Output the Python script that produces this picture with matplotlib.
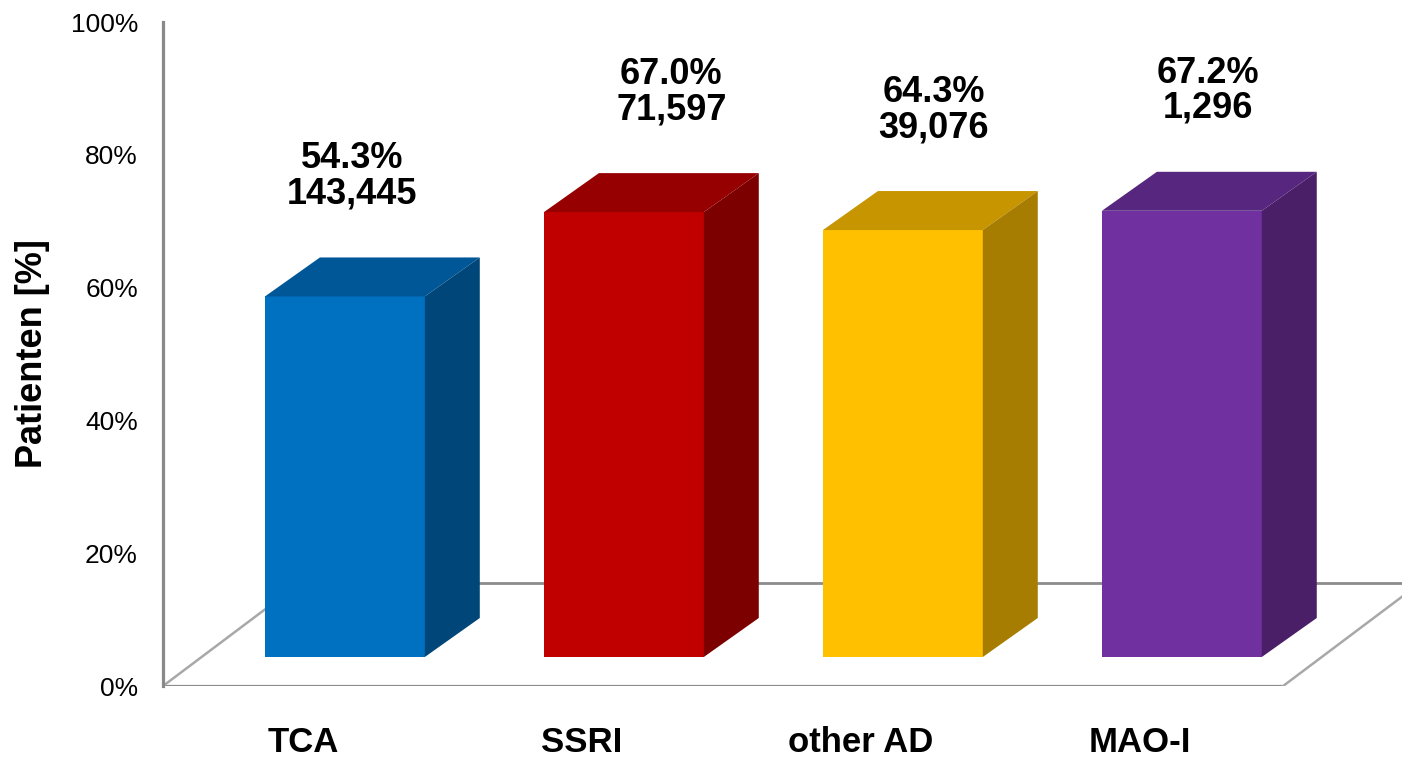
import matplotlib
matplotlib.use("Agg")
import matplotlib.pyplot as plt
from matplotlib.patches import Polygon

plt.rcParams['font.family'] = ['Liberation Sans', 'DejaVu Sans']

categories = ['TCA', 'SSRI', 'other AD', 'MAO-I']
percent = [54.3, 67.0, 64.3, 67.2]
patients = [143445, 71597, 39076, 1296]

front_colors = ['#0070C0', '#C00000', '#FFC000', '#7030A0']
top_colors = ['#005797', '#960000', '#C69500', '#57267E']
side_colors = ['#004679', '#7D0000', '#A67D00', '#4A1F68']

# fake 3d geometry (in data units: categories on x, percent on y)
bar_w = 0.573
bar_dx, bar_dy = 0.197, 5.87      # depth of a bar
gap_dx, gap_dy = 0.15, 4.37       # bars sit a bit behind the front floor edge
floor_dx, floor_dy = 0.491, 15.5  # depth of the floor
label_nudge = [0.025, 0.17, 0.11, 0.095]

fig = plt.figure(figsize=(14.02, 7.58), dpi=100)
ax = fig.add_axes([163 / 1402, 72 / 758, 1239 / 1402, 664 / 758])
ax.set_xlim(-0.502, 3.939)
ax.set_ylim(0, 100)

for s in ['top', 'right', 'bottom']:
    ax.spines[s].set_visible(False)
ax.spines['left'].set_color('#898989')
ax.spines['left'].set_linewidth(2.3)

# floor
x0, x1 = -0.502, 3.513
grey = '#8c8c8c'
ax.plot([x0, x1], [0, 0], color=grey, lw=2.3, zorder=1, solid_capstyle='butt')
ax.plot([x0 + floor_dx, 4.2], [floor_dy, floor_dy], color=grey, lw=2.0, zorder=1)
ax.plot([x0, x0 + floor_dx], [0, floor_dy], color='#a8a8a8', lw=1.8, zorder=1)
ax.plot([x1, x1 + floor_dx], [0, floor_dy], color='#a8a8a8', lw=1.8, zorder=1)

xs = [i + gap_dx for i in range(len(categories))]
ax.bar(xs, percent, width=bar_w, bottom=gap_dy, color=front_colors, zorder=3)

for i, (x, v) in enumerate(zip(xs, percent)):
    l, r = x - bar_w / 2, x + bar_w / 2
    top = gap_dy + v
    ax.add_patch(Polygon([(l, top), (r, top), (r + bar_dx, top + bar_dy), (l + bar_dx, top + bar_dy)],
                         closed=True, facecolor=top_colors[i], edgecolor='none', zorder=3))
    ax.add_patch(Polygon([(r, gap_dy), (r + bar_dx, gap_dy + bar_dy), (r + bar_dx, top + bar_dy), (r, top)],
                         closed=True, facecolor=side_colors[i], edgecolor='none', zorder=3))
    ax.text(x + label_nudge[i], top + bar_dy + 12.2, f"{v:.1f}%\n{patients[i]:,}",
            ha='center', va='center', fontsize=26, fontweight='bold', linespacing=1.0, zorder=4)

ax.set_yticks([0, 20, 40, 60, 80, 100])
ax.set_yticklabels([f"{t}%" for t in [0, 20, 40, 60, 80, 100]], fontsize=19)
ax.tick_params(axis='y', length=0, pad=18)

ax.set_xticks(range(len(categories)))
ax.set_xticklabels(categories, fontsize=25, fontweight='bold')
ax.tick_params(axis='x', length=0, pad=29)

ax.set_ylabel('Patienten [%]', fontsize=26, fontweight='bold')
ax.yaxis.set_label_coords(-0.091, 0.5)

fig.savefig('out.png', dpi=100)
